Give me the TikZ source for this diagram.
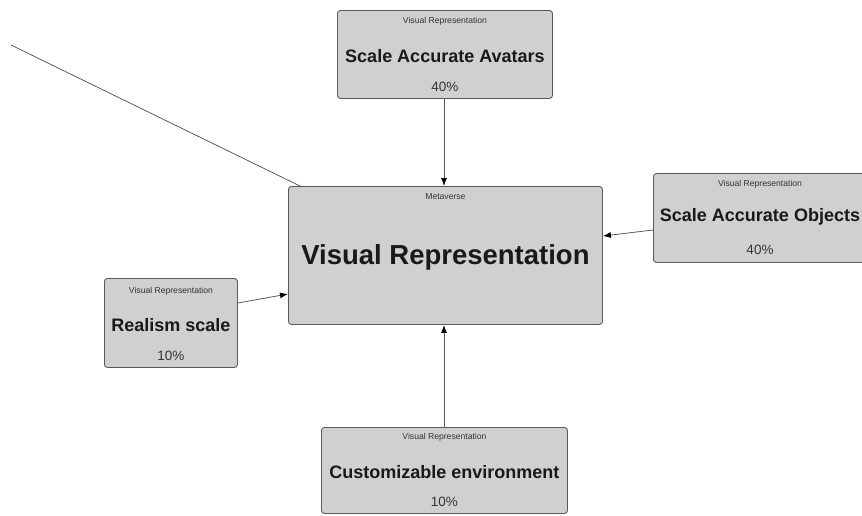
\documentclass[tikz,border=0pt]{standalone}
\usepackage{fontspec}
\setmainfont{Liberation Sans}
\usetikzlibrary{arrows.meta}
\definecolor{boxfill}{HTML}{D0D0D0}
\definecolor{boxline}{HTML}{5A5A5A}
\definecolor{labelc}{HTML}{333333}
\tikzset{
  card/.style={draw=boxline, line width=0.9pt, fill=boxfill, rounded corners=3pt, anchor=north west, inner sep=0pt},
  small/.style={font=\fontsize{8.6}{10}\selectfont, text=labelc, inner sep=0pt},
  title/.style={font=\fontsize{18}{20}\selectfont\bfseries, text=black!90, inner sep=0pt},
  bigtitle/.style={font=\fontsize{27.5}{30}\selectfont\bfseries, text=black!90, inner sep=0pt},
  pct/.style={font=\fontsize{13.5}{15}\selectfont, text=labelc, inner sep=0pt},
  link/.style={draw=black!65, line width=0.8pt, -{Latex[length=8pt,width=6pt,color=black]}},
  plain/.style={draw=black!70, line width=0.7pt},
}
\begin{document}
\begin{tikzpicture}[x=1pt,y=-1pt]
\useasboundingbox (0,0) rectangle (862,515);
\clip (0,0) rectangle (862,515);
% cards
\node[card, minimum width=215pt, minimum height=88pt] (av) at (337,10) {};
\node[card, minimum width=314pt, minimum height=138pt] (mv) at (288,186) {};
\node[card, minimum width=214pt, minimum height=89pt] (ob) at (653,173) {};
\node[card, minimum width=133pt, minimum height=89pt] (re) at (104,278) {};
\node[card, minimum width=246pt, minimum height=86pt] (cu) at (321,427) {};
% texts
\node[small] (avl) at (av.center |- 0,21) {Visual Representation};
\node[title] (avt) at (av.center |- 0,56) {Scale Accurate Avatars};
\node[pct] (avp) at (av.center |- 0,87) {40\%};
\node[small] (mvl) at (mv.center |- 0,197) {Metaverse};
\node[bigtitle] (mvt) at (mv.center |- 0,257) {Visual Representation};
\node[small] (obl) at (760,184) {Visual Representation};
\node[title] (obt) at (760,217) {Scale Accurate Objects};
\node[pct] (obp) at (760,250) {40\%};
\node[small] (rel) at (re.center |- 0,291) {Visual Representation};
\node[title] (ret) at (re.center |- 0,325) {Realism scale};
\node[pct] (rep) at (re.center |- 0,356) {10\%};
\node[small] (cul) at (cu.center |- 0,437) {Visual Representation};
\node[title] (cut) at (cu.center |- 0,472) {Customizable environment};
\node[pct] (cup) at (cu.center |- 0,502) {10\%};
% connectors
\coordinate (free) at (11,45);
\coordinate (mvcorner) at (300,186);
\draw[plain] (free) -- (mvcorner);
\draw[link] (av.south -| 444,0) -- (mv.north -| 444,0);
\draw[link] (cu.north -| 444,0) -- (mv.south -| 444,0);
\draw[link] (ob.west |- 0,230) -- (mv.east |- 0,236);
\draw[link] (re.east |- 0,303) -- (mv.west |- 0,294);
\end{tikzpicture}
\end{document}
